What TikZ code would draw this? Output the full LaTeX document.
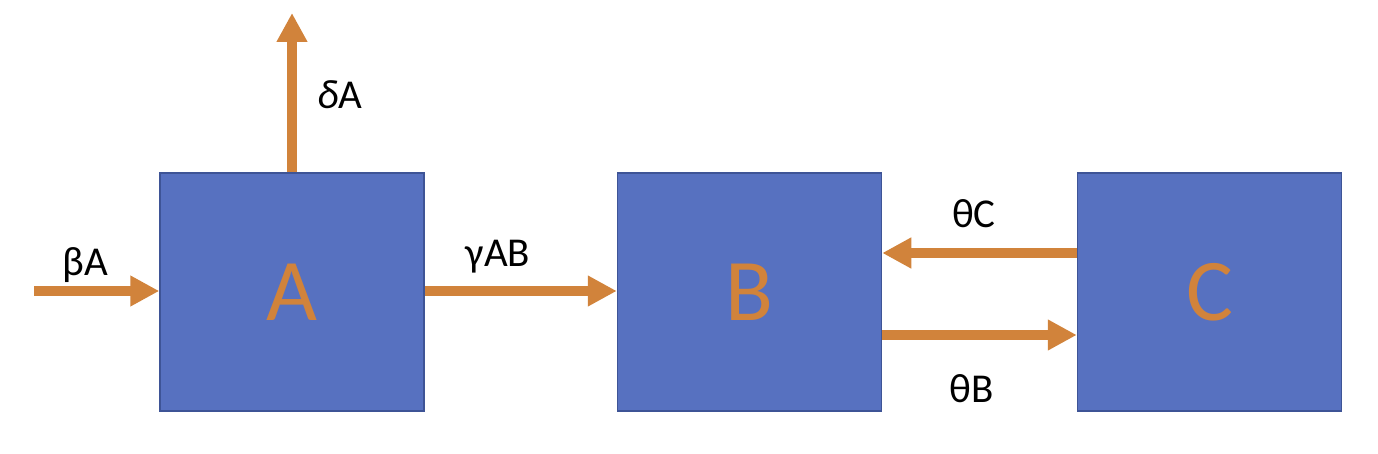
\documentclass[tikz,border=0pt]{standalone}
\usepackage{fontspec}
\setmainfont{Carlito}
\usetikzlibrary{arrows.meta}
\definecolor{boxblue}{RGB}{87,113,192}
\definecolor{boxedge}{RGB}{62,84,150}
\definecolor{flow}{RGB}{209,131,59}
\tikzset{
  comp/.style={draw=boxedge, line width=1.5pt, fill=boxblue, minimum width=264pt, minimum height=238pt, inner sep=0pt, text=flow, font=\fontsize{88}{88}\selectfont},
  flowarrow/.style={draw=flow, line width=9.5pt, -{Triangle[width=29pt,length=29pt]}},
  lbl/.style={font=\fontsize{41}{41}\selectfont, text=black, inner sep=0pt}
}
\begin{document}
\begin{tikzpicture}[x=1pt,y=-1pt]
\useasboundingbox (0,0) rectangle (1378,454);
\node[comp] (A) at (292,292) {A};
\node[comp] (B) at (749.5,292) {B};
\node[comp] (C) at (1209.5,292) {C};
\coordinate (inA) at (34,291);
\coordinate (outA) at (292,13);
\draw[flowarrow] (inA) -- (A.west |- inA);
\draw[flowarrow] (A.north) -- (outA);
\draw[flowarrow] (A.east |- 0,291) -- (B.west |- 0,291);
\draw[flowarrow] (C.west |- 0,253) -- (B.east |- 0,253);
\draw[flowarrow] (B.east |- 0,335) -- (C.west |- 0,335);
\node[lbl] (lbeta) at (85,265) {βA};
\node[lbl] (ldelta) at (340,95) {\textit{δ}A};
\node[lbl] (lgamma) at (498,257) {γAB};
\node[lbl] (ltc) at (974,214) {θC};
\node[lbl] (ltb) at (972,389) {θB};
\end{tikzpicture}
\end{document}
